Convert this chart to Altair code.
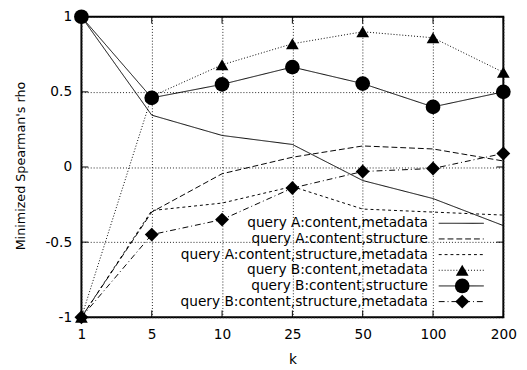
import altair as alt
import pandas as pd

ks = ["1", "5", "10", "25", "50", "100", "200"]
series = [
    "query A:content,metadata",
    "query A:content,structure",
    "query A:content,structure,metadata",
    "query B:content,metadata",
    "query B:content,structure",
    "query B:content,structure,metadata",
]
a_cm = [1.0, 0.345, 0.21, 0.15, -0.09, -0.21, -0.39]
a_cs = [-1.0, -0.30, -0.045, 0.065, 0.14, 0.12, 0.04]
a_csm = [-1.0, -0.29, -0.24, -0.13, -0.28, -0.30, -0.32]
b_cm = [-1.0, 0.47, 0.68, 0.82, 0.90, 0.86, 0.63]
b_cs = [1.0, 0.46, 0.55, 0.665, 0.555, 0.40, 0.50]
b_csm = [-1.0, -0.45, -0.35, -0.14, -0.03, -0.01, 0.09]
y_ticks = [-1, -0.5, 0, 0.5, 1]

dashes = [[1, 0], [6, 3], [3, 3], [1, 2], [1, 0], [6, 3, 1, 3]]
marked = series[3:]
shapes = ["triangle-up", "circle", "diamond"]
sizes = [169, 225, 200]

FONT = "DejaVu Sans"
FS = 14
W, H = 431, 307
PX = H / 2.0  # pixels per unit of y

values = [a_cm, a_cs, a_csm, b_cm, b_cs, b_csm]
rows = []
for s, vals in zip(series, values):
    for i, (k, v) in enumerate(zip(ks, vals)):
        rows.append({"series": s, "k": k, "i": i, "v": v})
df = pd.DataFrame(rows)

leg = pd.DataFrame({"series": series, "idx": list(range(len(series)))})
kdf = pd.DataFrame({"k": ks})
ydf = pd.DataFrame({"v": y_ticks})

dash_scale = alt.Scale(domain=series, range=dashes)
shape_scale = alt.Scale(domain=marked, range=shapes)
size_scale = alt.Scale(type="ordinal", domain=marked, range=sizes)

xenc = alt.X(
    "k:O",
    sort=ks,
    scale=alt.Scale(type="point", domain=ks, padding=0),
    axis=alt.Axis(
        title="k",
        labelAngle=0,
        ticks=False,
        tickSize=0,
        domain=False,
        grid=True,
        gridDash=[1, 2],
        gridColor="#222",
        labelPadding=22,
        labelBaseline="alphabetic",
        titleY=47,
        titleBaseline="alphabetic",
    ),
)
yenc = alt.Y(
    "v:Q",
    scale=alt.Scale(domain=[-1, 1], nice=False, zero=False),
    axis=alt.Axis(
        title="Minimized Spearman's rho",
        values=y_ticks,
        ticks=False,
        tickSize=0,
        domain=False,
        grid=True,
        gridDash=[1, 2],
        gridColor="#222",
        labelPadding=10,
        labelExpr="datum.value < 0 ? '-' + format(-datum.value, '') : format(datum.value, '')",
        titleX=-58,
        titleY=152,
        titleFontSize=13,
        titleBaseline="alphabetic",
    ),
)

base = alt.Chart(df)

lines = base.mark_line(color="black", strokeWidth=1).encode(
    x=xenc,
    y=yenc,
    strokeDash=alt.StrokeDash("series:N", scale=dash_scale, legend=None),
    order=alt.Order("i:Q"),
)

points = base.transform_filter(
    alt.FieldOneOfPredicate(field="series", oneOf=marked)
).mark_point(filled=True, color="black", opacity=1).encode(
    x=alt.X("k:O", sort=ks),
    y="v:Q",
    shape=alt.Shape("series:N", scale=shape_scale, legend=None),
    size=alt.Size("series:N", scale=size_scale, legend=None),
)

# inward ticks
tb = alt.Chart(kdf).mark_rule(color="black", strokeWidth=1).encode(
    x=alt.X("k:O", sort=ks), y=alt.datum(-1), y2=alt.datum(-1 + 7 / PX)
)
tt = alt.Chart(kdf).mark_rule(color="black", strokeWidth=1).encode(
    x=alt.X("k:O", sort=ks), y=alt.datum(1), y2=alt.datum(1 - 7 / PX)
)
tl = alt.Chart(ydf).mark_rule(color="black", strokeWidth=1).encode(
    y="v:Q", x=alt.value(0), x2=alt.value(7)
)
tr = alt.Chart(ydf).mark_rule(color="black", strokeWidth=1).encode(
    y="v:Q", x=alt.value(W), x2=alt.value(W - 7)
)

# legend (inside, bottom right)
legbase = alt.Chart(leg).transform_calculate(
    ly=f"1 - (211 + 16 * datum.idx) / {PX}"
)
leg_text = legbase.mark_text(
    align="right", baseline="middle", font=FONT, fontSize=FS, color="black"
).encode(x=alt.value(354), y="ly:Q", text="series:N")
leg_rule = legbase.mark_rule(color="black", strokeWidth=1).encode(
    x=alt.value(365),
    x2=alt.value(411),
    y="ly:Q",
    strokeDash=alt.StrokeDash("series:N", scale=dash_scale, legend=None),
)
leg_pts = legbase.transform_filter(
    alt.FieldOneOfPredicate(field="series", oneOf=marked)
).mark_point(filled=True, color="black", opacity=1).encode(
    x=alt.value(389),
    y="ly:Q",
    shape=alt.Shape("series:N", scale=shape_scale, legend=None),
    size=alt.Size("series:N", scale=size_scale, legend=None),
)

chart = (
    alt.layer(lines, points, tb, tt, tl, tr, leg_text, leg_rule, leg_pts)
    .properties(
        width=W,
        height=H,
        padding={"left": 75, "top": 5, "right": 16, "bottom": 52},
        autosize=alt.AutoSizeParams(type="none"),
    )
    .configure_view(stroke="black", strokeWidth=2)
    .configure_axis(
        labelFont=FONT,
        titleFont=FONT,
        labelFontSize=FS,
        titleFontSize=FS,
        titleFontWeight="normal",
        labelColor="black",
        titleColor="black",
    )
)

chart.save("out.html", embed_options={"renderer": "svg", "actions": False})
